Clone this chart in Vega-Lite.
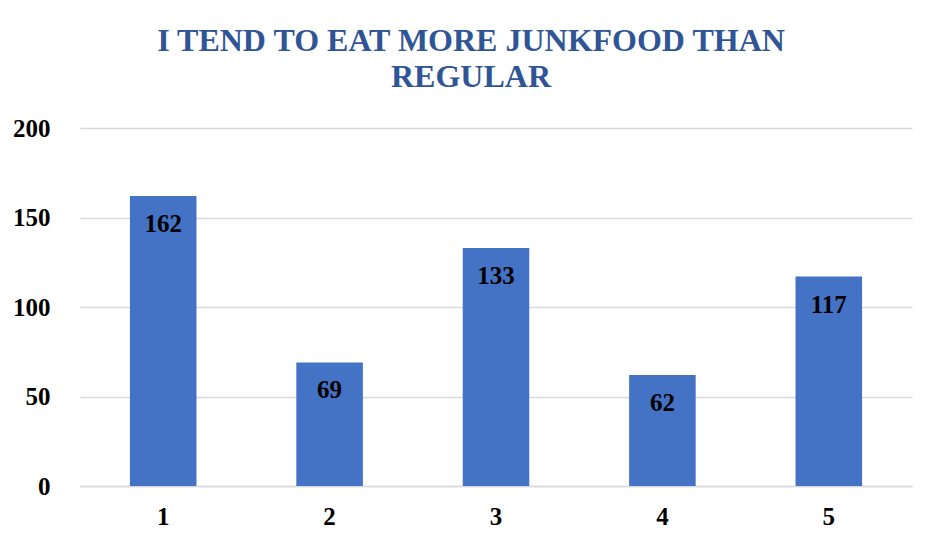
{
  "$schema": "https://vega.github.io/schema/vega-lite/v6.json",
  "width": 832,
  "height": 358,
  "autosize": {"type": "none"},
  "padding": {"left": 80, "top": 128, "right": 27, "bottom": 62},
  "background": "white",
  "title": {
    "text": ["I TEND TO EAT MORE JUNKFOOD THAN", "REGULAR"],
    "font": "Liberation Serif",
    "fontSize": 32,
    "fontWeight": "bold",
    "color": "#2F5597",
    "anchor": "middle",
    "dx": -25,
    "lineHeight": 36,
    "offset": 22
  },
  "data": {
    "values": [
      {"category": "1", "count": 162},
      {"category": "2", "count": 69},
      {"category": "3", "count": 133},
      {"category": "4", "count": 62},
      {"category": "5", "count": 117}
    ]
  },
  "encoding": {
    "x": {
      "field": "category",
      "type": "ordinal",
      "scale": {"paddingInner": 0.6, "paddingOuter": 0.3},
      "axis": {
        "title": null,
        "labelAngle": 0,
        "labelFont": "Liberation Serif",
        "labelFontSize": 25,
        "labelFontWeight": "bold",
        "labelColor": "black",
        "labelPadding": 18,
        "ticks": false,
        "domainColor": "#d9d9d9",
        "domainWidth": 1.5
      }
    },
    "y": {
      "field": "count",
      "type": "quantitative",
      "scale": {"domain": [0, 200]},
      "axis": {
        "title": null,
        "values": [0, 50, 100, 150, 200],
        "labelFont": "Liberation Serif",
        "labelFontSize": 25,
        "labelFontWeight": "bold",
        "labelColor": "black",
        "labelPadding": 30,
        "ticks": false,
        "domain": false,
        "gridColor": "#d9d9d9",
        "gridWidth": 1.5
      }
    }
  },
  "layer": [
    {"mark": {"type": "bar", "color": "#4472C4"}},
    {
      "mark": {
        "type": "text",
        "baseline": "top",
        "dy": 16,
        "font": "Liberation Serif",
        "fontSize": 25,
        "fontWeight": "bold",
        "color": "black"
      },
      "encoding": {"text": {"field": "count", "type": "quantitative"}}
    }
  ],
  "config": {"view": {"stroke": null}}
}
